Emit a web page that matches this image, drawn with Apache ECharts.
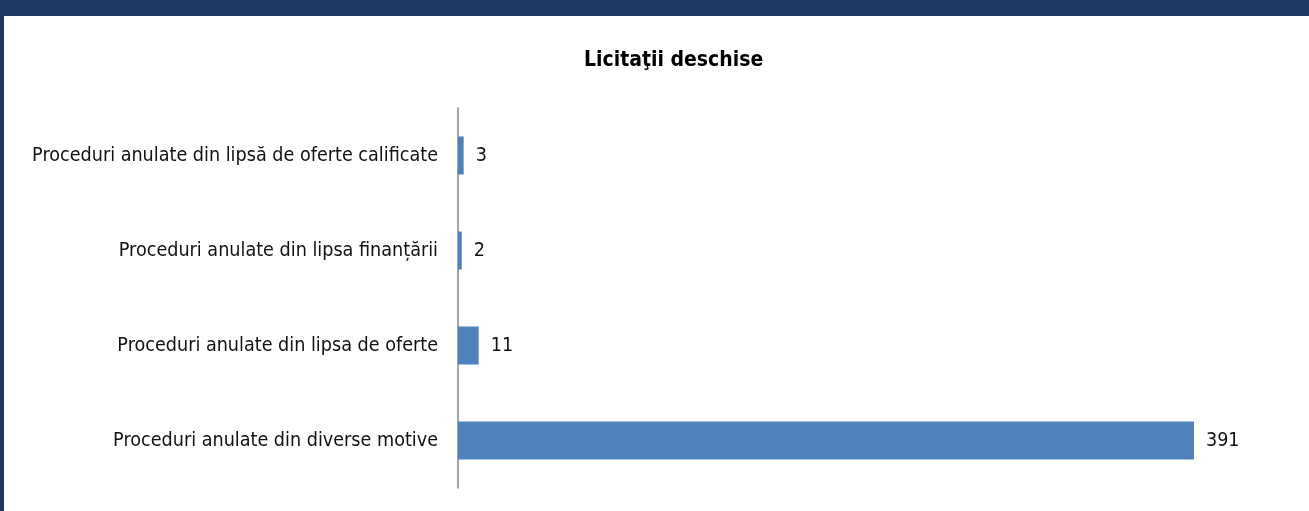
<!DOCTYPE html>
<html lang="ro">
<head>
    <meta charset="utf-8">
    <title>Licitaţii deschise</title>
    <script src="https://cdn.jsdelivr.net/npm/echarts@6/dist/echarts.min.js"></script>
    <style>
        html, body { margin: 0; padding: 0; background: #fff; }
        #wrap { position: relative; width: 1309px; height: 511px; overflow: hidden; }
        #main { position: absolute; left: 0; top: 0; width: 1309px; height: 511px; }
        .bar-top { position: absolute; left: 0; top: 0; width: 1309px; height: 16px; background: #20375f; }
        .bar-left { position: absolute; left: 0; top: 0; width: 4px; height: 511px; background: #20375f; }
    </style>
</head>
<body>
<div id="wrap">
    <div id="main"></div>
    <div class="bar-top"></div>
    <div class="bar-left"></div>
</div>
<script type="text/javascript">
    // categorii, de sus in jos
    var categorii = [
        'Proceduri anulate din lipsă de oferte calificate',
        'Proceduri anulate din lipsa finanțării',
        'Proceduri anulate din lipsa de oferte',
        'Proceduri anulate din diverse motive'
    ];
    var valori = [3, 2, 11, 391];

    var font = '"Liberation Sans Narrow", "DejaVu Sans Condensed", sans-serif';

    var myChart = echarts.init(document.getElementById('main'));
    var option = {
        animation: false,
        title: {
            text: 'Licitaţii deschise',
            left: 579,
            top: 45,
            textStyle: { fontFamily: font, fontSize: 21, fontWeight: 'bold', color: '#000' }
        },
        grid: { left: 458, top: 108, width: 847, height: 380, containLabel: false },
        xAxis: {
            type: 'value',
            min: 0,
            max: 450,
            show: false
        },
        yAxis: {
            type: 'category',
            inverse: true,
            data: categorii,
            axisLine: { lineStyle: { color: '#878787', width: 1.5 } },
            axisTick: { show: false },
            axisLabel: { margin: 20, fontFamily: font, fontSize: 19.6, color: '#111' }
        },
        series: [{
            type: 'bar',
            data: valori,
            barWidth: 38,
            itemStyle: { color: '#4f81bd' },
            label: {
                show: true,
                position: 'right',
                distance: 12,
                fontFamily: font,
                fontSize: 19.6,
                color: '#111'
            }
        }]
    };
    myChart.setOption(option);
</script>
</body>
</html>
